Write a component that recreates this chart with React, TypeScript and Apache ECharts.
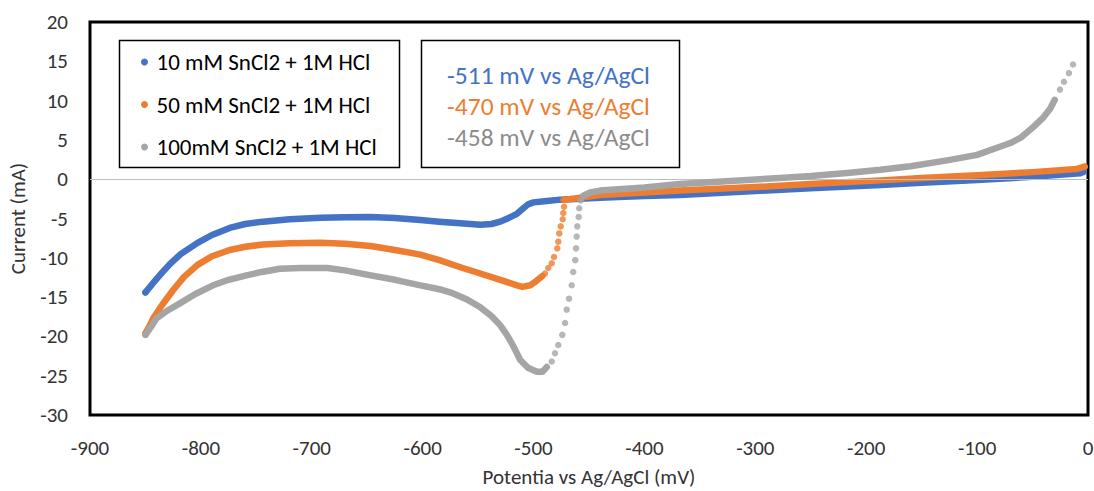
import React, { useEffect, useRef } from "react";
import * as echarts from "echarts";

// ---- data (mV, mA) ----
const seriesNames = ["10 mM SnCl2 + 1M HCl", "50 mM SnCl2 + 1M HCl", "100mM SnCl2 + 1M HCl"];
const annotations = ["-511 mV vs Ag/AgCl", "-470 mV vs Ag/AgCl", "-458 mV vs Ag/AgCl"];

const blueBand: [number, number][] = [
  [-850, -14.4], [-843, -13.2], [-835, -11.9], [-828, -10.8], [-818, -9.5], [-803, -8.1],
  [-790, -7.1], [-774, -6.2], [-760, -5.7], [-744, -5.4], [-720, -5.1], [-692, -4.9],
  [-670, -4.85], [-647, -4.8], [-625, -4.95], [-602, -5.2], [-585, -5.4], [-566, -5.6],
  [-548, -5.8], [-538, -5.7], [-530, -5.4], [-522, -4.9], [-515, -4.4], [-510, -3.8],
  [-505, -3.2], [-500, -2.95], [-490, -2.8], [-476, -2.6], [-440, -2.35], [-400, -2.15],
  [-368, -2.0], [-300, -1.5], [-250, -1.15], [-187, -0.75], [-150, -0.45], [-100, -0.1],
  [-50, 0.3], [-7, 0.75], [-4, 0.95],
];
const blueDots: [number, number][] = [[-850, -14.4], [-4, 0.95]];

const orangeBand1: [number, number][] = [
  [-850, -19.6], [-846, -18.6], [-843, -17.7], [-835, -16.0], [-825, -14.1], [-815, -12.4],
  [-803, -10.9], [-790, -9.8], [-774, -9.0], [-760, -8.6], [-744, -8.3], [-720, -8.15],
  [-692, -8.1], [-670, -8.2], [-647, -8.5], [-625, -9.0], [-602, -9.6], [-585, -10.3],
  [-566, -11.2], [-548, -12.0], [-530, -12.8], [-515, -13.5], [-510, -13.7], [-503, -13.5],
  [-497, -12.9], [-492, -12.3],
];
const orangeDots: [number, number][] = [
  [-850, -19.6], [-489.7, -12.0], [-486.7, -11.3], [-483.6, -10.7], [-481.6, -9.9], [-478.6, -8.8],
  [-477.7, -7.95], [-476.8, -6.9], [-475.5, -6.0], [-473.7, -5.1], [-473.2, -4.3],
  [-472.5, -3.5], [-473.2, -2.65], [-3, 1.6],
];
const orangeBand2: [number, number][] = [
  [-472, -2.6], [-465, -2.5], [-458, -2.35], [-440, -2.0], [-400, -1.7], [-368, -1.45],
  [-300, -1.0], [-250, -0.6], [-187, -0.15], [-150, 0.15], [-100, 0.5], [-50, 0.9],
  [-10, 1.3], [-3, 1.6],
];

const grayBand1: [number, number][] = [
  [-850, -19.8], [-845, -18.8], [-840, -17.7], [-830, -16.7], [-819, -15.8], [-805, -14.6],
  [-789, -13.5], [-775, -12.8], [-758, -12.2], [-745, -11.8], [-729, -11.4], [-710, -11.3],
  [-686, -11.3], [-670, -11.6], [-648, -12.2], [-625, -12.8], [-602, -13.5], [-585, -14.0],
  [-573, -14.5], [-560, -15.3], [-548, -16.3], [-538, -17.4], [-530, -18.6], [-524, -19.8],
  [-518, -21.3], [-512, -23.0], [-505, -24.0], [-497, -24.5], [-492, -24.5], [-488, -23.9],
];
const grayDots: [number, number][] = [
  [-850, -19.8], [-483.6, -23.2], [-480.7, -22.15], [-477.7, -21.1], [-474.1, -19.8], [-471.6, -18.3],
  [-470.1, -16.6], [-468, -15.2], [-465.6, -13.5], [-464.2, -11.8], [-462.4, -10.3],
  [-461.7, -8.8], [-461.1, -7.3], [-460.6, -6.0], [-459.3, -4.8], [-458.8, -3.7],
  [-457.5, -2.7], [-25.3, 11.4], [-21.7, 12.4], [-17.2, 13.5], [-13.5, 14.6],
];
const grayBand2: [number, number][] = [
  [-455, -2.1], [-449, -1.7], [-440, -1.45], [-400, -1.05], [-368, -0.6], [-330, -0.3],
  [-278, 0.15], [-250, 0.4], [-217, 0.8], [-187, 1.2], [-160, 1.65], [-127, 2.4],
  [-100, 3.1], [-82, 4.0], [-70, 4.6], [-61, 5.25], [-49.6, 6.6], [-40, 7.9],
  [-34, 9.0], [-30, 10.1],
];

const COLORS = ["#4472C4", "#ED7D31", "#A5A5A5"];
const TEXT_COLORS = ["#4472C4", "#ED7D31", "#8C8C8C"];
const FONT = "Carlito, Calibri, Lato, 'Open Sans', sans-serif";

function band(name: string, color: string, data: [number, number][], z: number) {
  return {
    type: "line",
    name,
    data,
    showSymbol: false,
    symbol: "none",
    silent: true,
    z,
    itemStyle: { color },
    lineStyle: { color, width: 6.5, cap: "round", join: "round" },
  };
}
function dots(name: string, color: string, data: [number, number][], z: number) {
  return {
    type: "scatter",
    name,
    data,
    symbol: "circle",
    symbolSize: 6.5,
    silent: true,
    z,
    itemStyle: { color },
  };
}

export default function App() {
  const ref = useRef<HTMLDivElement>(null);
  useEffect(() => {
    if (!ref.current) return;
    const chart = echarts.init(ref.current, null, { renderer: "svg" });
    const blueLine: any = band(seriesNames[0], COLORS[0], blueBand, 3);
    blueLine.markLine = {
      silent: true,
      symbol: "none",
      label: { show: false },
      lineStyle: { color: "#BFBFBF", width: 1, type: "solid" },
      data: [{ yAxis: 0 }],
    };
    chart.setOption({
      animation: false,
      backgroundColor: "#fff",
      grid: {
        left: 90, right: 6, top: 22, bottom: 76,
        show: true, borderColor: "#000", borderWidth: 3, containLabel: false,
        outerBoundsMode: "none",
      },
      xAxis: {
        type: "value", min: -900, max: 0, interval: 100,
        name: "Potentia vs Ag/AgCl (mV)", nameLocation: "middle", nameGap: 51,
        nameTextStyle: { fontSize: 21, color: "#333", fontFamily: FONT },
        axisLine: { show: false }, axisTick: { show: false }, splitLine: { show: false },
        axisLabel: { fontSize: 21, color: "#333", fontFamily: FONT, margin: 22 },
      },
      yAxis: {
        type: "value", min: -30, max: 20, interval: 5,
        name: "Current (mA)", nameLocation: "middle", nameGap: 62,
        nameTextStyle: { fontSize: 21, color: "#333", fontFamily: FONT },
        axisLine: { show: false }, axisTick: { show: false }, splitLine: { show: false },
        axisLabel: { fontSize: 21, color: "#333", fontFamily: FONT, margin: 22 },
      },
      legend: {
        orient: "vertical", left: 136, top: 45, itemGap: 18.5,
        itemWidth: 14, itemHeight: 7,
        data: seriesNames.map((n) => ({ name: n, icon: "circle" })),
        textStyle: { fontSize: 23, color: "#000", fontFamily: FONT, lineHeight: 24 },
      },
      graphic: [
        { type: "rect", shape: { x: 119.5, y: 40.5, width: 280, height: 127 }, style: { fill: "none", stroke: "#000", lineWidth: 1.5 }, z: 10 },
        { type: "rect", shape: { x: 421.5, y: 40.5, width: 258, height: 127 }, style: { fill: "#fff", stroke: "#000", lineWidth: 1.5 }, z: 10 },
        ...annotations.map((t, i) => ({
          type: "text", x: 447, y: 75 + i * 31, z: 11,
          style: { text: t, fill: TEXT_COLORS[i], fontSize: 25.5, fontFamily: FONT, verticalAlign: "middle", align: "left" },
        })),
      ],
      series: [
        blueLine,
        dots(seriesNames[0], COLORS[0], blueDots, 3),
        band(seriesNames[1], COLORS[1], orangeBand1, 4),
        band(seriesNames[1], COLORS[1], orangeBand2, 4),
        dots(seriesNames[1], COLORS[1], orangeDots, 4),
        band(seriesNames[2], COLORS[2], grayBand1, 5),
        band(seriesNames[2], COLORS[2], grayBand2, 5),
        dots(seriesNames[2], COLORS[2], grayDots, 5),
      ],
    });
    return () => chart.dispose();
  }, []);
  return <div ref={ref} style={{ position: "absolute", left: 0, top: 0, width: 1094, height: 491 }} />;
}
